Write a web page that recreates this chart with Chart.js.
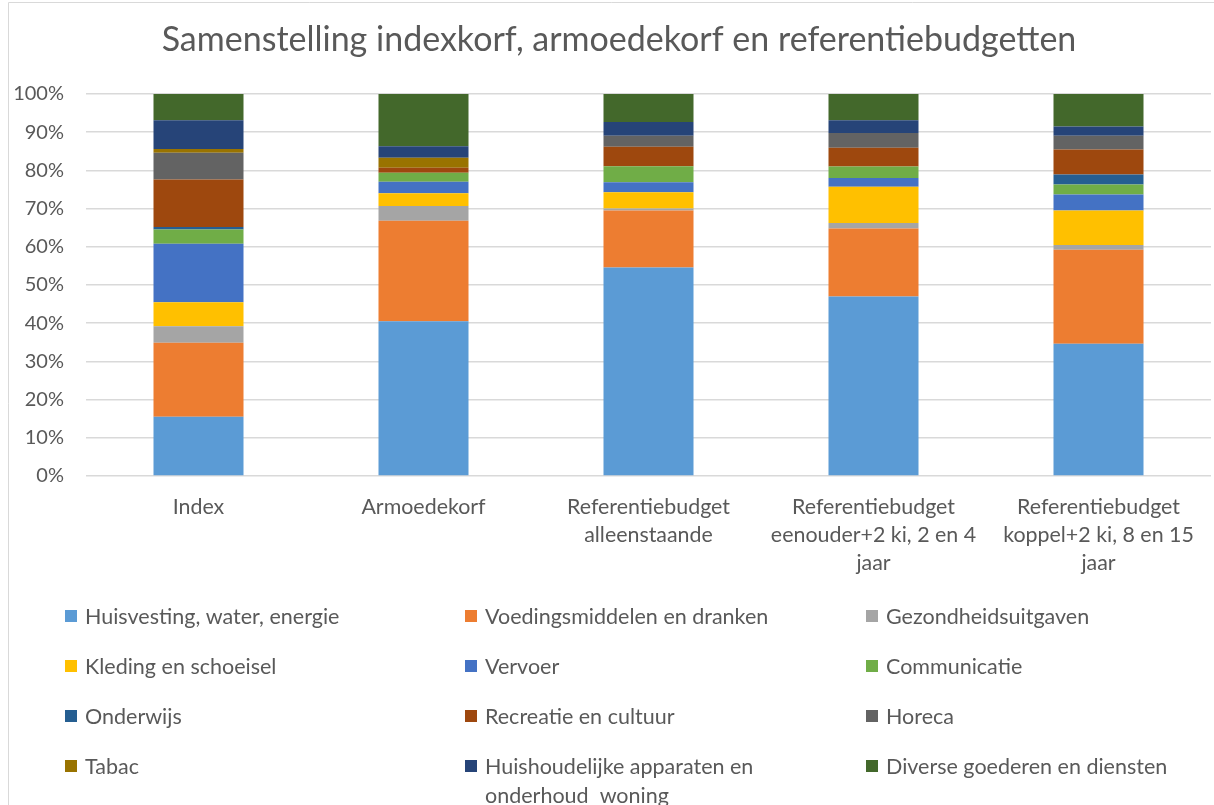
<!DOCTYPE html>
<html>
<head>
<meta charset="utf-8">
<script src="https://cdn.jsdelivr.net/npm/chart.js@4.4.1/dist/chart.umd.min.js"></script>
<style>
  html, body { margin: 0; padding: 0; background: #ffffff; }
  #wrap { width: 1214px; height: 805px; position: relative; }
  canvas { display: block; }
</style>
</head>
<body>
<div id="wrap"><canvas id="c" width="1214" height="805"></canvas></div>
<script>
const title = 'Samenstelling indexkorf, armoedekorf en referentiebudgetten';
const categories = [
  ['Index'],
  ['Armoedekorf'],
  ['Referentiebudget', 'alleenstaande'],
  ['Referentiebudget', 'eenouder+2 ki, 2 en 4', 'jaar'],
  ['Referentiebudget', 'koppel+2 ki, 8 en 15', 'jaar']
];
const yTicks = [0, 10, 20, 30, 40, 50, 60, 70, 80, 90, 100];

const seriesNames = [
  'Huisvesting, water, energie',
  'Voedingsmiddelen en dranken',
  'Gezondheidsuitgaven',
  'Kleding en schoeisel',
  'Vervoer',
  'Communicatie',
  'Onderwijs',
  'Recreatie en cultuur',
  'Horeca',
  'Tabac',
  'Huishoudelijke apparaten en\nonderhoud  woning',
  'Diverse goederen en diensten'
];
const seriesColors = ['#5B9BD5','#ED7D31','#A5A5A5','#FFC000','#4472C4','#70AD47','#255E91','#9E480E','#636363','#997300','#264478','#43682B'];

const huisvesting   = [15.5, 40.5, 54.6, 47.0, 34.6];
const voeding       = [19.4, 26.3, 14.9, 17.8, 24.6];
const gezondheid    = [4.3, 3.9, 0.5, 1.4, 1.3];
const kleding       = [6.3, 3.3, 4.3, 9.5, 9.0];
const vervoer       = [15.3, 3.0, 2.6, 2.3, 4.2];
const communicatie  = [3.7, 2.4, 4.2, 3.0, 2.6];
const onderwijs     = [0.7, 0, 0, 0, 2.6];
const recreatie     = [12.4, 1.3, 5.1, 4.9, 6.6];
const horeca        = [7.0, 0, 2.9, 3.9, 3.6];
const tabac         = [1.0, 2.6, 0, 0, 0];
const huishoudelijk = [7.5, 3.0, 3.6, 3.3, 2.4];
const diverse       = [6.9, 13.7, 7.3, 6.9, 8.5];

const seriesValues = [huisvesting, voeding, gezondheid, kleding, vervoer, communicatie, onderwijs, recreatie, horeca, tabac, huishoudelijk, diverse];

const FONT = 'Lato, "Open Sans", sans-serif';
const TEXT = '#595959';

const datasets = seriesNames.map((n, i) => ({
  label: n,
  data: seriesValues[i],
  backgroundColor: seriesColors[i],
  borderWidth: 0,
  barPercentage: 0.4,
  categoryPercentage: 1.0
}));

const decor = {
  id: 'decor',
  afterDraw(chart) {
    const ctx = chart.ctx;
    ctx.save();
    // frame
    ctx.strokeStyle = '#D9D9D9';
    ctx.lineWidth = 1;
    ctx.beginPath();
    ctx.moveTo(8.5, 805); ctx.lineTo(8.5, 2.5); ctx.lineTo(1214, 2.5);
    ctx.stroke();
    // title
    ctx.fillStyle = TEXT;
    ctx.font = '34px ' + FONT;
    ctx.textAlign = 'center';
    ctx.textBaseline = 'middle';
    ctx.fillText(title, 619, 40);
    // legend grid
    const cols = [65, 465, 866];
    const rows = [616, 666, 716, 766];
    ctx.font = '21.5px ' + FONT;
    ctx.textAlign = 'left';
    chart.data.datasets.forEach((ds, i) => {
      const c = i % 3, r = Math.floor(i / 3);
      const x = cols[c], y = rows[r];
      ctx.fillStyle = ds.backgroundColor;
      ctx.fillRect(x, y - 6, 12, 12);
      ctx.fillStyle = TEXT;
      ds.label.split('\n').forEach((line, k) => {
        ctx.fillText(line, x + 20, y + 1 + k * 29);
      });
    });
    ctx.restore();
  }
};

new Chart(document.getElementById('c'), {
  type: 'bar',
  data: { labels: categories, datasets },
  plugins: [decor],
  options: {
    responsive: false,
    animation: false,
    layout: { padding: { left: 8, right: 3, top: 94, bottom: 215 } },
    plugins: {
      legend: { display: false },
      tooltip: { enabled: false },
      title: { display: false }
    },
    scales: {
      x: {
        stacked: true,
        grid: { display: false, drawTicks: false },
        border: { display: false },
        ticks: {
          color: TEXT,
          font: { family: FONT, size: 21.4, lineHeight: 28 / 21.4 },
          padding: 17,
          maxRotation: 0,
          autoSkip: false
        },
        afterFit(s) { s.height = 114; }
      },
      y: {
        stacked: true,
        min: 0,
        max: 100,
        grid: { color: '#D9D9D9', lineWidth: 1.5, drawTicks: false },
        border: { display: false },
        ticks: {
          stepSize: 10,
          color: TEXT,
          font: { family: FONT, size: 20 },
          padding: 22,
          callback: (v) => yTicks.includes(v) ? v + '%' : ''
        },
        afterFit(s) { s.width = 78; }
      }
    }
  }
});
</script>
</body>
</html>
